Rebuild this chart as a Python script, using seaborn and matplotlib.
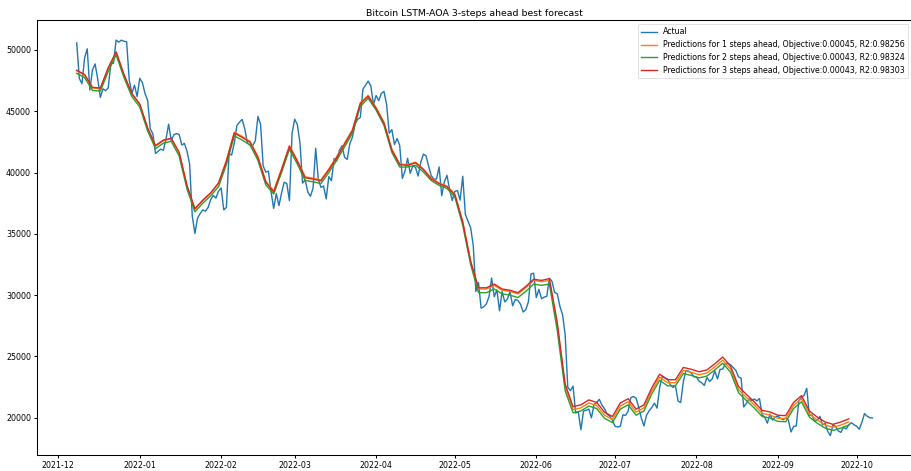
import matplotlib
matplotlib.use("Agg")
import matplotlib.pyplot as plt
import matplotlib.dates as mdates
import numpy as np
import pandas as pd
import seaborn as sns

# Daily BTC closing prices (USD), one list per month
actual_2021_12 = [50582, 47678, 47244, 49363, 50098, 46737, 48379, 48864, 47632, 46132,
                  46834, 46682, 46915, 48897, 48915, 50810, 50640, 50804, 50711, 50680,
                  47548, 46469, 47130, 46201]
actual_2022_01 = [47686, 47345, 46458, 45897, 43569, 43160, 41558, 41734, 41912, 41821,
                  42736, 43949, 42592, 43099, 43177, 43114, 42250, 42375, 41744, 40681,
                  36458, 35030, 36276, 36654, 36954, 36852, 37138, 37784, 38138, 37917,
                  38483]
actual_2022_02 = [38744, 36953, 37155, 41501, 41441, 42413, 43840, 44118, 44338, 43565,
                  42407, 42244, 42197, 42586, 44575, 43961, 40538, 40030, 40122, 38431,
                  37075, 38286, 37296, 38332, 39214, 39105, 37709, 43193]
actual_2022_03 = [44354, 43925, 42452, 39138, 39400, 38420, 38062, 38738, 41983, 39437,
                  38795, 38904, 37850, 39667, 39339, 41143, 40951, 41801, 42191, 41247,
                  41077, 42358, 42893, 43960, 44349, 44500, 46820, 47128, 47465, 47062,
                  45538]
actual_2022_04 = [46281, 45868, 46454, 46623, 45556, 43207, 43504, 42287, 42782, 42207,
                  39521, 40127, 41166, 39935, 40553, 40424, 39716, 40827, 41503, 41374,
                  40527, 39740, 39470, 39469, 40458, 38118, 39241, 39774, 38609, 37715]
actual_2022_05 = [38469, 38529, 37750, 39698, 36575, 36040, 35501, 34059, 30296, 31023,
                  28936, 29047, 29283, 29862, 31394, 29875, 30425, 28716, 30297, 29446,
                  29676, 30298, 29131, 29654, 29557, 29268, 28627, 28815, 29446, 31726,
                  31793]
actual_2022_06 = [29800, 30468, 29705, 29833, 29907, 31371, 31125, 30214, 30112, 29084,
                  28425, 26763, 22487, 22207, 22572, 20382, 20472, 19018, 20553, 20600,
                  20711, 19988, 21086, 21232, 21502, 21028, 20735, 20281, 20105, 19785]
actual_2022_07 = [19297, 19243, 19297, 20232, 20190, 20548, 21637, 21731, 21592, 20861,
                  19971, 19323, 20212, 20570, 20836, 21190, 20780, 22485, 23390, 23232,
                  23164, 22714, 22466, 22609, 21361, 21240, 22931, 23843, 23805, 23656,
                  23336]
actual_2022_08 = [23314, 22978, 22846, 22630, 23289, 22961, 23175, 23810, 23164, 23948,
                  23957, 24403, 24441, 24305, 24094, 23855, 23336, 23212, 20877, 21166,
                  21534, 21398, 21529, 21368, 21560, 20241, 20037, 19555, 20286, 19812,
                  20050]
actual_2022_09 = [20127, 19952, 19832, 19987, 19812, 18837, 19290, 19329, 21382, 21652,
                  21826, 22395, 20174, 20227, 19701, 19803, 20113, 19417, 19537, 18876,
                  18548, 19412, 19297, 18927, 18803, 19223, 19080, 19412, 19591, 19423]
actual_2022_10 = [19311, 19057, 19630, 20337, 20120, 20000, 19980]

actual = (actual_2021_12 + actual_2022_01 + actual_2022_02 + actual_2022_03 +
          actual_2022_04 + actual_2022_05 + actual_2022_06 + actual_2022_07 +
          actual_2022_08 + actual_2022_09 + actual_2022_10)
actual_dates = pd.date_range("2021-12-08", periods=len(actual), freq="D")

# Model forecasts, sampled every third day
pred_1_step = [48300, 47950, 46900, 46850, 48500, 49800, 47950, 46400, 45550, 43600,
               42150, 42600, 42750, 41600, 38900, 37000, 37700, 38300, 39100,
               41000, 43300, 42950, 42550, 41300, 39300, 38500, 40300, 42200, 41000,
               39650, 39550, 39400, 40300, 41300, 42400, 43500, 45700, 46300,
               45300, 44100, 41900, 40700, 40650, 40850, 40300, 39550, 39150, 38900,
               38250, 36000, 32800,
               30500, 30500, 30800, 30400, 30300, 30100, 30600, 31200, 31100, 31200,
               27500, 22500, 20650, 20800, 21200, 21000, 20200, 19850, 20950, 21300,
               20450, 20800, 22200, 23300, 22850, 22850, 23850, 23700, 23500, 23650,
               24150, 24700, 23950, 22300, 21650, 21050, 20350, 20220, 19950, 19920,
               21000, 21550, 20300, 19800, 19400, 19210, 19400, 19650]
pred_2_step = [48100, 47750, 46700, 46650, 48250, 49600, 47750, 46200, 45350, 43400,
               41950, 42400, 42550, 41350, 38650, 36800, 37500, 38100, 38850,
               40650, 43000, 42650, 42250, 41000, 39000, 38250, 40000, 41900, 40700,
               39350, 39250, 39100, 40000, 41000, 42100, 43200, 45400, 46050,
               45100, 43850, 41650, 40450, 40450, 40600, 40050, 39350, 38950, 38700,
               38000, 35700, 32500,
               30200, 30200, 30500, 30100, 30000, 29800, 30300, 30900, 30800, 30900,
               27100, 22200, 20400, 20550, 20950, 20750, 19950, 19600, 20700, 21050,
               20200, 20550, 21950, 23050, 22600, 22600, 23600, 23450, 23250, 23400,
               23900, 24450, 23700, 22050, 21400, 20800, 20100, 19970, 19700, 19670,
               20750, 21300, 20050, 19550, 19150, 18960, 19150, 19400]
pred_3_step = [48350, 48000, 46950, 46900, 48550, 49850, 48000, 46450, 45600, 43650,
               42200, 42650, 42800, 41650, 38950, 37050, 37750, 38350, 39150,
               40920, 43220, 42870, 42470, 41220, 39220, 38420, 40220, 42120, 40920,
               39570, 39470, 39320, 40220, 41220, 42320, 43420, 45620, 46220,
               45240, 44040, 41840, 40640, 40590, 40790, 40240, 39490, 39090, 38840,
               38190, 35940, 32740,
               30600, 30600, 30900, 30500, 30400, 30200, 30700, 31300, 31200, 31350,
               27750, 22750, 20900, 21050, 21450, 21250, 20450, 20100, 21200, 21550,
               20700, 21050, 22450, 23550, 23100, 23100, 24100, 23950, 23750, 23900,
               24400, 24950, 24200, 22550, 21900, 21300, 20600, 20470, 20200, 20170,
               21250, 21800, 20550, 20050, 19650, 19460, 19650, 19900]
pred_dates = pd.date_range("2021-12-08", periods=len(pred_1_step), freq="3D")

pred_labels = [
    "Predictions for 1 steps ahead, Objective:0.00045, R2:0.98256",
    "Predictions for 2 steps ahead, Objective:0.00043, R2:0.98324",
    "Predictions for 3 steps ahead, Objective:0.00043, R2:0.98303",
]
title = "Bitcoin LSTM-AOA 3-steps ahead best forecast"

plt.rcParams.update({
    "font.size": 11.3,
    "axes.linewidth": 1.5,
    "xtick.major.width": 1.5,
    "ytick.major.width": 1.5,
    "xtick.major.size": 5,
    "ytick.major.size": 5,
})

fig = plt.figure(figsize=(18.24, 9.42), dpi=50)
ax = fig.add_axes([0.0405, 0.0334, 0.9597, 0.9235])

sns.lineplot(x=actual_dates, y=actual, ax=ax, color="tab:blue", label="Actual",
             linewidth=2.0)
for series, color, label in zip([pred_1_step, pred_2_step, pred_3_step],
                                ["tab:orange", "tab:green", "tab:red"], pred_labels):
    sns.lineplot(x=pred_dates, y=series, ax=ax, color=color, label=label,
                 linewidth=2.0)

ax.set_title(title)
ax.set_xlabel("")
ax.set_ylabel("")
ax.xaxis.set_major_locator(mdates.MonthLocator())
ax.xaxis.set_major_formatter(mdates.DateFormatter("%Y-%m"))
ax.legend(loc="upper right")

fig.savefig("out.png", dpi=50)
